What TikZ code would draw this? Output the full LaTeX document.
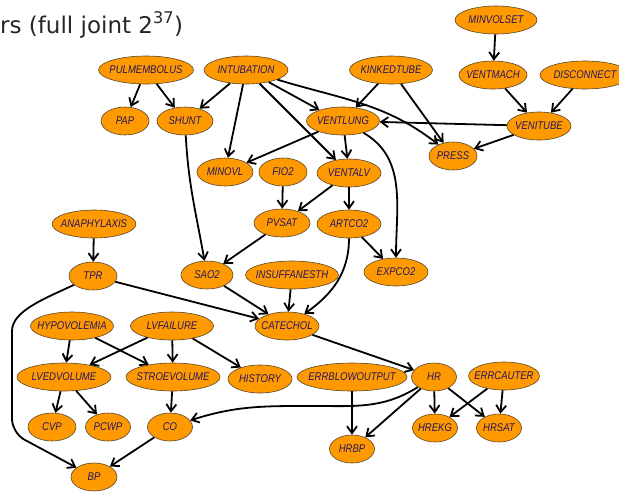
\documentclass[tikz,border=0pt]{standalone}
\usepackage{fontspec}
\usetikzlibrary{shapes.geometric,arrows.meta}
\newfontfamily\lblfont[FakeStretch=0.85]{Liberation Sans}
\newfontfamily\ttlfont{DejaVu Sans}
\newcommand\zlbl[1]{\makebox[0pt]{#1}}
\definecolor{bnfill}{RGB}{255,153,0}
\definecolor{bntext}{RGB}{38,22,98}
\definecolor{bnline}{RGB}{90,70,40}
\begin{document}
\begin{tikzpicture}[x=1pt,y=1pt,
  bn/.style={ellipse, draw=bnline, line width=0.6pt, fill=bnfill, minimum height=28pt, inner sep=0pt,
    text=bntext, font=\lblfont\itshape\fontsize{11.2}{12}\selectfont},
  arr/.style={line width=1.8pt, -{Straight Barb[length=7pt,width=10pt]}}]
\useasboundingbox (0,0) rectangle (619,-491);
\clip (0,0) rectangle (619,-491);
\node[anchor=base west, inner sep=0pt, font=\ttlfont\fontsize{23}{24}\selectfont, text=black!85] (title) at (0,-33) {rs (full joint 2\textsuperscript{37})};
% nodes
\node[bn, minimum width=95pt] (PUL) at (146,-70) {\zlbl{PULMEMBOLUS}};
\node[bn, minimum width=84pt] (INT) at (246,-70) {\zlbl{INTUBATION}};
\node[bn, minimum width=83pt] (KIN) at (391,-70) {\zlbl{KINKEDTUBE}};
\node[bn, minimum width=82pt] (MVS) at (496,-20) {\zlbl{MINVOLSET}};
\node[bn, minimum width=68pt] (VMA) at (493,-75) {\zlbl{VENTMACH}};
\node[bn, minimum width=90pt] (DIS) at (585,-75) {\zlbl{DISCONNECT}};
\node[bn, minimum width=48pt] (PAP) at (125,-121) {\zlbl{PAP}};
\node[bn, minimum width=56pt] (SHU) at (185,-121) {\zlbl{SHUNT}};
\node[bn, minimum width=73pt] (VLU) at (343,-121) {\zlbl{VENTLUNG}};
\node[bn, minimum width=64pt] (VTU) at (539,-126) {\zlbl{VENITUBE}};
\node[bn, minimum width=48pt] (PRE) at (453,-156) {\zlbl{PRESS}};
\node[bn, minimum width=56pt] (MOV) at (225,-172) {\zlbl{MINOVL}};
\node[bn, minimum width=48pt] (FIO) at (283,-172) {\zlbl{FIO2}};
\node[bn, minimum width=64pt] (VAL) at (349,-173) {\zlbl{VENTALV}};
\node[bn, minimum width=84pt] (ANA) at (94,-224) {\zlbl{ANAPHYLAXIS}};
\node[bn, minimum width=56pt] (PVS) at (282,-223) {\zlbl{PVSAT}};
\node[bn, minimum width=64pt] (ART) at (349,-224) {\zlbl{ARTCO2}};
\node[bn, minimum width=48pt] (TPR) at (93,-276) {\zlbl{TPR}};
\node[bn, minimum width=52pt] (SAO) at (207,-275) {\zlbl{SAO2}};
\node[bn, minimum width=93pt] (INS) at (292,-275) {\zlbl{INSUFFANESTH}};
\node[bn, minimum width=64pt] (EXP) at (396,-272) {\zlbl{EXPCO2}};
\node[bn, minimum width=83pt] (HYP) at (72,-326) {\zlbl{HYPOVOLEMIA}};
\node[bn, minimum width=83pt] (LVF) at (172,-326) {\zlbl{LVFAILURE}};
\node[bn, minimum width=64pt] (CAT) at (287,-326) {\zlbl{CATECHOL}};
\node[bn, minimum width=94pt] (LVE) at (64,-377) {\zlbl{LVEDVOLUME}};
\node[bn, minimum width=94pt] (STR) at (173,-377) {\zlbl{STROEVOLUME}};
\node[bn, minimum width=64pt] (HIS) at (260,-379) {\zlbl{HISTORY}};
\node[bn, minimum width=110pt] (ERB) at (352,-377) {\zlbl{ERRBLOWOUTPUT}};
\node[bn, minimum width=45pt] (HR) at (434,-377) {\zlbl{HR}};
\node[bn, minimum width=71pt] (ERC) at (504,-376) {\zlbl{ERRCAUTER}};
\node[bn, minimum width=48pt] (CVP) at (52,-427) {\zlbl{CVP}};
\node[bn, minimum width=45pt] (PCW) at (108,-427) {\zlbl{PCWP}};
\node[bn, minimum width=45pt] (CO) at (170,-427) {\zlbl{CO}};
\node[bn, minimum width=45pt] (HRE) at (435,-428) {\zlbl{HREKG}};
\node[bn, minimum width=45pt] (HRS) at (499,-428) {\zlbl{HRSAT}};
\node[bn, minimum width=45pt] (HRB) at (352,-449) {\zlbl{HRBP}};
\node[bn, minimum width=46pt] (BP) at (94,-477) {\zlbl{BP}};
% helper coordinates
\coordinate (tb1) at (12,-345);
\coordinate (tb2) at (12,-433);
\coordinate (hc) at (315,-406);
% edges
\draw[arr] (MVS) -- (VMA);
\draw[arr] (VMA) -- (VTU);
\draw[arr] (DIS) -- (VTU);
\draw[arr] (VTU) -- (VLU);
\draw[arr] (VTU) -- (PRE);
\draw[arr] (KIN) -- (VLU);
\draw[arr] (KIN) -- (PRE);
\draw[arr] (INT) to[out=-17,in=142] (PRE);
\draw[arr] (INT.-28) -- (VLU.155);
\draw[arr] (INT) -- (SHU);
\draw[arr] (INT) -- (MOV);
\draw[arr] (INT) -- (VAL);
\draw[arr] (PUL) -- (PAP);
\draw[arr] (PUL) -- (SHU);
\draw[arr] (VLU) -- (MOV);
\draw[arr] (VLU) -- (VAL);
\draw[arr] (VLU) to[out=-30,in=90] (EXP);
\draw[arr] (FIO) -- (PVS);
\draw[arr] (VAL) -- (PVS);
\draw[arr] (VAL) -- (ART);
\draw[arr] (ART) -- (EXP);
\draw[arr] (ART) to[out=-90,in=35] (CAT);
\draw[arr] (SHU) to[out=-87,in=100] (SAO);
\draw[arr] (PVS) -- (SAO);
\draw[arr] (SAO) -- (CAT);
\draw[arr] (INS) -- (CAT);
\draw[arr] (TPR) -- (CAT);
\draw[arr] (ANA) -- (TPR);
\draw[arr, rounded corners=14pt] (TPR) to[out=205,in=90] (tb1) -- (tb2) -- (BP);
\draw[arr] (CAT) -- (HR);
\draw[arr] (HYP) -- (LVE);
\draw[arr] (HYP) -- (STR);
\draw[arr] (LVF) -- (LVE);
\draw[arr] (LVF) -- (STR);
\draw[arr] (LVF) -- (HIS);
\draw[arr] (LVE) -- (CVP);
\draw[arr] (LVE) -- (PCW);
\draw[arr] (STR) -- (CO);
\draw[arr] (CO) -- (BP);
\draw[arr] (HR) to[out=212,in=0] (hc) to[out=180,in=18] (CO);
\draw[arr] (HR) -- (HRB);
\draw[arr] (HR) -- (HRE);
\draw[arr] (HR) -- (HRS);
\draw[arr] (ERC) -- (HRE);
\draw[arr] (ERC) -- (HRS);
\draw[arr] (ERB) -- (HRB);
\end{tikzpicture}
\end{document}
